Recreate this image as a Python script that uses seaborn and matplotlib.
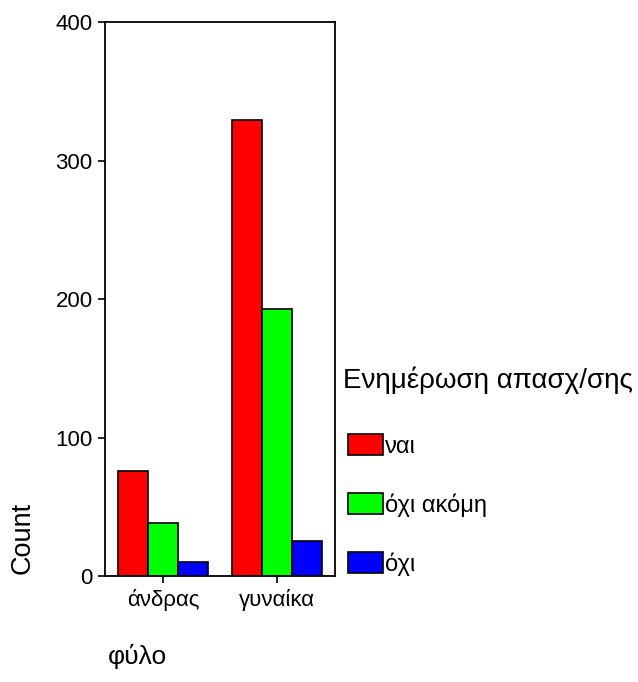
import pandas as pd
import matplotlib
matplotlib.use("Agg")
import matplotlib.pyplot as plt
import seaborn as sns

# data
gender = ["άνδρας", "γυναίκα"]
status = ["ναι", "όχι ακόμη", "όχι"]
counts_men = [76, 38, 10]
counts_women = [329, 193, 25]
bar_colors = ["#ff0000", "#00ff00", "#0000ff"]

df = pd.DataFrame({
    "φύλο": [g for g in gender for _ in status],
    "status": status * 2,
    "Count": counts_men + counts_women,
})

sns.set_style("white")
plt.rcParams["font.family"] = ["Liberation Sans", "DejaVu Sans"]
plt.rcParams["text.color"] = "black"
plt.rcParams["axes.labelcolor"] = "black"

fig = plt.figure(figsize=(6.38, 6.82), dpi=100)
ax = fig.add_axes([0.1646, 0.1554, 0.3605, 0.8123])

sns.barplot(data=df, x="φύλο", y="Count", hue="status", hue_order=status,
            order=gender, palette=bar_colors, edgecolor="black", linewidth=1.2,
            width=0.79, saturation=1, legend=False, ax=ax)

ax.set_ylim(0, 400)
ax.set_xlim(-0.51, 1.51)
ax.set_yticks([0, 100, 200, 300, 400])
ax.tick_params(axis="both", direction="out", length=5, width=1.2,
               colors="black", labelsize=16, pad=4, left=True, bottom=True)
for s in ax.spines.values():
    s.set_visible(True)
    s.set_color("black")
    s.set_linewidth(1.3)

ax.set_xlabel("φύλο", fontsize=19)
ax.set_ylabel("Count", fontsize=19.5)
ax.xaxis.set_label_coords(0.14, -0.122)
ax.yaxis.set_label_coords(-0.30, 0.069)

# legend on the right: title as separate text, then the colour boxes
fig.text(343 / 638, 1 - 380 / 682, "Ενημέρωση απασχ/σης", fontsize=20,
         ha="left", va="center")
handles = [plt.Rectangle((0, 0), 1, 1, facecolor=c, edgecolor="black", linewidth=1.2)
           for c in bar_colors]
fig.legend(handles, status, loc="upper left",
           bbox_to_anchor=(348 / 638, 1 - 434 / 682),
           frameon=False, fontsize=17, borderpad=0, borderaxespad=0,
           handlelength=1.48, handleheight=1.0, handletextpad=0.1,
           labelspacing=1.5)

fig.savefig("out.png", dpi=100)
